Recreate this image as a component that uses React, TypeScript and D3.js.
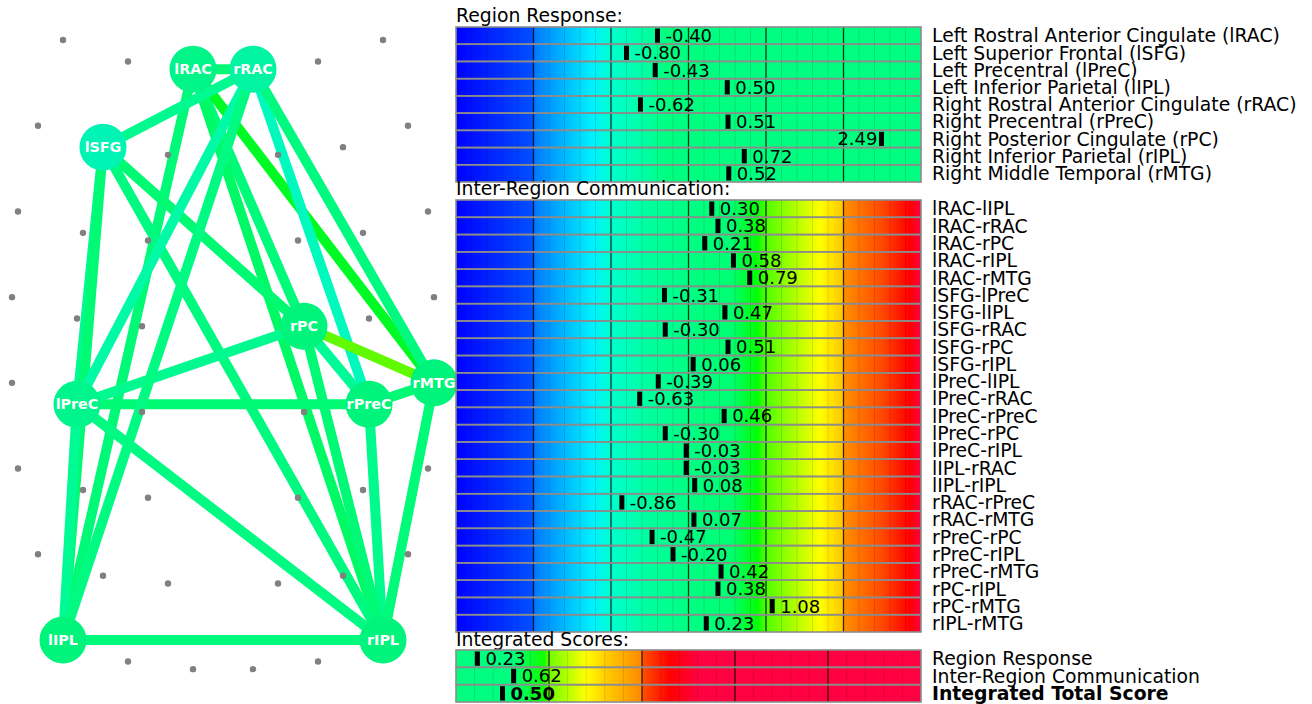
import React from 'react';
import * as d3 from 'd3';

// ---------------- data ----------------
const regionLabels = [
  'Left Rostral Anterior Cingulate (lRAC)',
  'Left Superior Frontal (lSFG)',
  'Left Precentral (lPreC)',
  'Left Inferior Parietal (lIPL)',
  'Right Rostral Anterior Cingulate (rRAC)',
  'Right Precentral (rPreC)',
  'Right Posterior Cingulate (rPC)',
  'Right Inferior Parietal (rIPL)',
  'Right Middle Temporal (rMTG)',
];
const regionAbbr = ['lRAC', 'lSFG', 'lPreC', 'lIPL', 'rRAC', 'rPreC', 'rPC', 'rIPL', 'rMTG'];
const regionValues = [-0.4, -0.8, -0.43, 0.5, -0.62, 0.51, 2.49, 0.72, 0.52];

const commLabels = [
  'lRAC-lIPL', 'lRAC-rRAC', 'lRAC-rPC', 'lRAC-rIPL', 'lRAC-rMTG',
  'lSFG-lPreC', 'lSFG-lIPL', 'lSFG-rRAC', 'lSFG-rPC', 'lSFG-rIPL',
  'lPreC-lIPL', 'lPreC-rRAC', 'lPreC-rPreC', 'lPreC-rPC', 'lPreC-rIPL',
  'lIPL-rRAC', 'lIPL-rIPL', 'rRAC-rPreC', 'rRAC-rMTG', 'rPreC-rPC',
  'rPreC-rIPL', 'rPreC-rMTG', 'rPC-rIPL', 'rPC-rMTG', 'rIPL-rMTG',
];
const commValues = [
  0.3, 0.38, 0.21, 0.58, 0.79,
  -0.31, 0.47, -0.3, 0.51, 0.06,
  -0.39, -0.63, 0.46, -0.3, -0.03,
  -0.03, 0.08, -0.86, 0.07, -0.47,
  -0.2, 0.42, 0.38, 1.08, 0.23,
];

const scoreLabels = ['Region Response', 'Inter-Region Communication', 'Integrated Total Score'];
const scoreValues = [0.23, 0.62, 0.5];

const zDomain = [-3, 3];
const scoreDomain = [0, 5];

// colour maps: [value, colour]
const regionStops: [number, string][] = [
  [-3, '#0000ff'], [-2, '#0050ff'], [-2, '#0078ff'], [-1.25, '#00f0ff'],
  [-1, '#00ffd0'], [-0.5, '#00ff9c'], [-0.3, '#00ff80'], [3, '#00ff80'],
];
const commStops: [number, string][] = [
  [-3, '#0000ff'], [-2, '#0050ff'], [-2, '#0078ff'], [-1.25, '#00f0ff'],
  [-1, '#00ffd0'], [-0.5, '#00ff9c'], [0, '#00ff84'], [0.55, '#00ff72'],
  [0.88, '#00ff08'], [1, '#50ff00'], [1.5, '#d0ff00'], [1.7, '#ffff00'],
  [2, '#ffc400'], [2, '#ff9000'], [2.5, '#ff4800'], [2.85, '#ff0000'], [3, '#ff0040'],
];
const scoreStops: [number, string][] = [
  [0, '#00ff80'], [0.6, '#00ff80'], [0.95, '#10ff00'], [1, '#70ff00'],
  [1.4, '#ffff00'], [1.6, '#ffd000'], [2, '#ff8800'], [2, '#ff5000'],
  [2.3, '#ff0000'], [2.6, '#ff0040'], [5, '#ff0040'],
];

// network layout (ellipse slots): group index along the head, ring, side
const groupCount = 8;
const ringOffset = [0, 0.25, 0.34];
const ringHalf = [
  [160, 185, 205, 211, 211, 205, 185, 160],
  [95, 120, 140, 146, 146, 140, 120, 95],
  [30, 55, 75, 81, 81, 75, 55, 30],
];
const nodeSlots: Record<string, [number, number, number]> = {
  lRAC: [0, 2, -1], rRAC: [0, 2, 1], lSFG: [1, 1, -1], rPC: [3, 2, 1], rMTG: [4, 0, 1],
  lPreC: [4, 1, -1], rPreC: [4, 1, 1], lIPL: [7, 0, -1], rIPL: [7, 0, 1],
};

// ---------------- helpers ----------------
function colorAt(stops: [number, string][], v: number): string {
  if (v <= stops[0][0]) return stops[0][1];
  for (let i = 0; i < stops.length - 1; i++) {
    const [a, ca] = stops[i];
    const [b, cb] = stops[i + 1];
    if (v >= a && v <= b && b > a) {
      return d3.interpolateRgb(ca, cb)((v - a) / (b - a));
    }
  }
  return stops[stops.length - 1][1];
}

const FONT = 'DejaVu Sans';
const LABEL_FS = 18.8;
const VALUE_FS = 18;
const PX0 = 456;
const PX1 = 921;

type PanelProps = {
  id: string;
  title: string;
  titleY: number;
  labels: string[];
  values: number[];
  y0: number;
  y1: number;
  domain: number[];
  stops: [number, string][];
  nCells: number;
  boldLast?: boolean;
};

function Panel({ id, title, titleY, labels, values, y0, y1, domain, stops, nCells, boldLast }: PanelProps) {
  const x = d3.scaleLinear().domain(domain).range([PX0, PX1]);
  const y = d3.scaleBand<string>().domain(labels).range([y0, y1]).padding(0);
  const bh = y.bandwidth();
  const span = domain[1] - domain[0];
  const cellW = (PX1 - PX0) / nCells;
  const cells = d3.range(1, nCells);
  return (
    <g>
      <defs>
        <linearGradient id={id} gradientUnits="userSpaceOnUse" x1={PX0} x2={PX1} y1={0} y2={0}>
          {stops.map(([v, c], i) => (
            <stop key={i} offset={(v - domain[0]) / span} stopColor={c} />
          ))}
        </linearGradient>
      </defs>
      <text x={PX0} y={titleY} fontFamily={FONT} fontSize={LABEL_FS} fill="#000">{title}</text>
      {labels.map((l) => (
        <rect key={'r' + l} x={PX0} y={y(l)!} width={PX1 - PX0} height={bh} fill={`url(#${id})`} />
      ))}
      {cells.map((c) => (
        <line key={'c' + c} x1={PX0 + c * cellW} x2={PX0 + c * cellW} y1={y0} y2={y1}
          stroke="#000" strokeOpacity={c % 5 === 0 ? 0.8 : 0.12} strokeWidth={c % 5 === 0 ? 1.3 : 1} />
      ))}
      {labels.map((l) => (
        <rect key={'b' + l} x={PX0} y={y(l)!} width={PX1 - PX0} height={bh} fill="none"
          stroke="#8c8c8c" strokeWidth={1.6} />
      ))}
      {labels.map((l, i) => {
        const v = values[i];
        const vx = x(v);
        const bold = boldLast && i === labels.length - 1;
        const cy = y(l)! + bh / 2;
        const right = vx > PX1 - 60;
        return (
          <g key={'m' + l}>
            <rect x={vx - 2.5} y={y(l)! + 1.5} width={5} height={bh - 3} fill="#000" />
            <text x={right ? vx - 4 : vx + 8} y={cy} dy="0.36em" textAnchor={right ? 'end' : 'start'}
              fontFamily={FONT} fontSize={VALUE_FS} fontWeight={bold ? 'bold' : 'normal'} fill="#000">
              {v.toFixed(2)}
            </text>
            <text x={932} y={cy} dy="0.36em" fontFamily={FONT} fontSize={LABEL_FS}
              fontWeight={bold ? 'bold' : 'normal'} fill="#000">{l}</text>
          </g>
        );
      })}
    </g>
  );
}

function Network() {
  const xNet = d3.scaleLinear().domain([-211, 211]).range([12, 434]);
  const yNet = d3.scaleLinear().domain([0, groupCount - 1]).range([40, 640]);
  const slotPos = (g: number, r: number, s: number) => ({
    x: xNet(s * ringHalf[r][g]),
    y: yNet(g + ringOffset[r]),
  });
  const dots: { x: number; y: number }[] = [];
  for (let g = 0; g < groupCount; g++)
    for (let r = 0; r < ringHalf.length; r++)
      for (const s of [-1, 1]) dots.push(slotPos(g, r, s));
  const pos: Record<string, { x: number; y: number }> = {};
  regionAbbr.forEach((a) => {
    const [g, r, s] = nodeSlots[a];
    pos[a] = slotPos(g, r, s);
  });
  const nodeR = 23.5;
  return (
    <g>
      {commLabels.map((l, i) => {
        const [a, b] = l.split('-');
        const c = d3.color(colorAt(commStops, commValues[i]))!.darker(0.06).formatHex();
        return (
          <line key={l} x1={pos[a].x} y1={pos[a].y} x2={pos[b].x} y2={pos[b].y}
            stroke={c} strokeWidth={10} />
        );
      })}
      {dots.map((d, i) => (
        <circle key={'d' + i} cx={d.x} cy={d.y} r={3.2} fill="#808080" />
      ))}
      {regionAbbr.map((a, i) => {
        const c = d3.color(colorAt(regionStops, regionValues[i]))!.darker(0.12).formatHex();
        return (
          <g key={a}>
            <circle cx={pos[a].x} cy={pos[a].y} r={nodeR} fill={c} />
            <text x={pos[a].x} y={pos[a].y} dy="0.36em" textAnchor="middle" fontFamily={FONT}
              fontWeight="bold" fontSize={14.3} fill="#fff">{a}</text>
          </g>
        );
      })}
    </g>
  );
}

export default function App() {
  return (
    <svg width={1312} height={704} style={{ position: 'absolute', left: 0, top: 0, background: '#fff' }}>
      <rect width={1312} height={704} fill="#fff" />
      <Network />
      <Panel id="gRegion" title="Region Response:" titleY={22} labels={regionLabels} values={regionValues}
        y0={27} y1={182} domain={zDomain} stops={regionStops} nCells={30} />
      <Panel id="gComm" title="Inter-Region Communication:" titleY={195} labels={commLabels} values={commValues}
        y0={200} y1={632} domain={zDomain} stops={commStops} nCells={30} />
      <Panel id="gScore" title="Integrated Scores:" titleY={646} labels={scoreLabels} values={scoreValues}
        y0={650} y1={702} domain={scoreDomain} stops={scoreStops} nCells={25} boldLast />
    </svg>
  );
}
